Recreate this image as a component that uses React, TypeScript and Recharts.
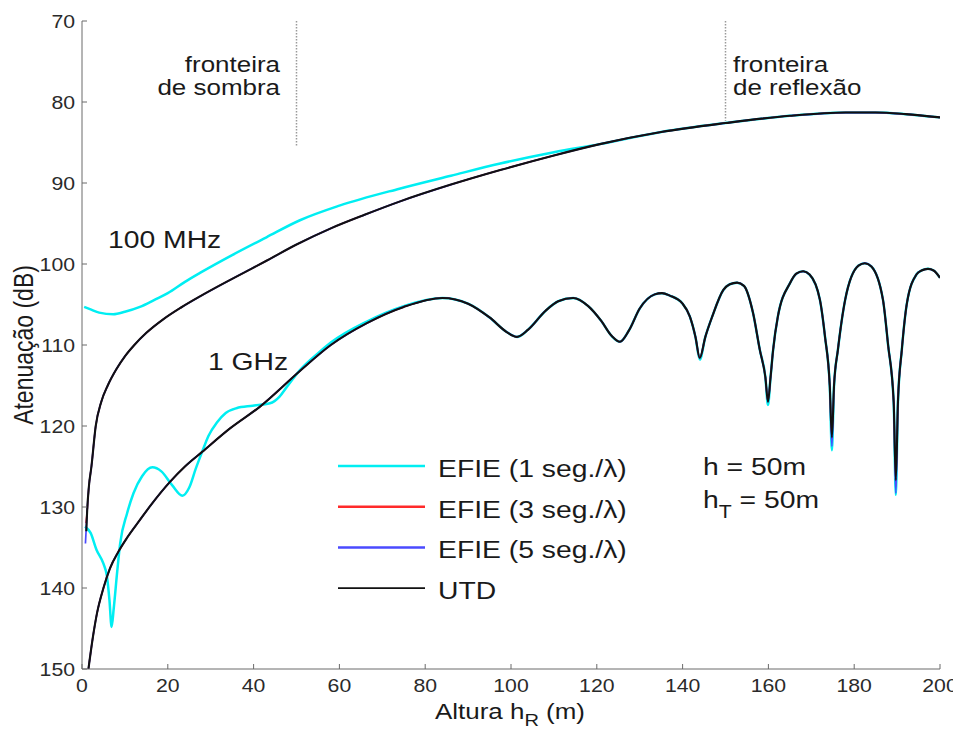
import React from 'react';
import { LineChart, Line, XAxis, YAxis, ReferenceLine } from 'recharts';

const FONT = 'Arial, "Liberation Sans", Helvetica, sans-serif';
const SX = 1.18; // the original figure is stretched horizontally

const xTicks = [0, 20, 40, 60, 80, 100, 120, 140, 160, 180, 200];
const yTicks = [70, 80, 90, 100, 110, 120, 130, 140, 150];

// ---- 100 MHz, [hR (m), attenuation (dB)]
const efie1_100 = [
  [0.5, 105.3], [2, 105.6], [4, 106.0], [7.3, 106.2], [10, 105.9], [13.5, 105.3],
  [17, 104.4], [20, 103.6], [24, 102.2], [27.5, 101.1], [35, 98.9], [43, 96.7],
  [50.8, 94.6], [60, 92.8], [74, 90.7], [86, 89.1], [97.5, 87.6], [110, 86.2],
  [120.7, 85.2], [135, 83.7], [150, 82.6], [165, 81.7], [178, 81.3], [185, 81.3],
  [192, 81.5], [200, 81.9],
];
const utd100 = [
  [1.0, 133.0], [1.2, 130.5], [1.6, 127.5], [2.2, 125.0], [3.2, 120.0], [4.5, 117.0],
  [6, 115.0], [8, 113.0], [10, 111.4], [12.2, 110.0], [15, 108.5], [19, 106.8],
  [23, 105.4], [27.5, 104.0], [33, 102.4], [38, 101.0], [43, 99.6], [50, 97.6],
  [58, 95.6], [66, 93.9], [74, 92.3], [86, 90.2], [97.5, 88.4], [110, 86.6],
  [120.7, 85.2], [135, 83.7], [150, 82.6], [165, 81.7], [178, 81.3], [185, 81.3],
  [192, 81.5], [200, 81.9],
];
// EFIE 3 and 5 seg./λ sit on the UTD curve; only their first points differ
const efie3_100Start = [[0.9, 132.0]];
const efie5_100Start = [[0.8, 134.5]];

// ---- 1 GHz
const efie1_1g = [
  [0.7, 132.4], [2, 133.2], [3.4, 135.3], [5, 137.0], [5.8, 138.5], [6.4, 141.5],
  [6.9, 144.8], [7.4, 142.5], [8.2, 138.0], [8.9, 134.5], [10.5, 130.8], [12, 128.3],
  [14, 126.2], [16.4, 125.1], [18.5, 125.6], [21, 127.3], [23.4, 128.6], [25, 127.6],
  [26.5, 125.3], [28, 123.2], [29.5, 121.2], [31.4, 119.6], [33.5, 118.4], [36, 117.8],
  [39.8, 117.5], [43.8, 117.2], [46, 116.4], [47.7, 115.2], [50.8, 113.1], [55.5, 110.8],
  [58, 109.7], [66.4, 107.1], [75, 105.2], [84, 104.2], [90, 104.9], [95, 106.6],
  [99, 108.4], [101.4, 109.0], [104, 108.1], [108, 105.8], [111, 104.6], [114.5, 104.2],
  [118, 105.2], [121, 107.0], [123.5, 108.9], [125.4, 109.6], [127.5, 108.2], [130, 105.5],
  [133.5, 103.75], [135.2, 103.6], [137, 103.9], [140, 104.9], [141.7, 106.5], [143, 109.0],
  [144, 111.8], [145.3, 109.0], [146.9, 106.5], [149.5, 103.2], [151, 102.5], [152.7, 102.3],
  [154.3, 102.7], [156.4, 106.0], [158, 110.6], [159.3, 114.0], [159.9, 117.4], [160.5, 114.0],
  [161.1, 110.6], [162.2, 106.5], [165, 102.4], [166.5, 101.2], [168.1, 100.9], [169.6, 101.3],
  [172, 104.4], [173.2, 109.0], [174.3, 115.0], [174.8, 123.0], [175.3, 115.0], [176.2, 110.6],
  [177.9, 104.4], [181, 100.2], [182.5, 99.9], [184, 100.3], [186.7, 104.4], [187.9, 110.0],
  [189.2, 117.0], [189.7, 128.5], [190.2, 117.0], [191.1, 110.6], [192.3, 104.8], [194.5, 101.3],
  [195.7, 100.8], [197.2, 100.6], [198.5, 100.8], [200, 101.7],
];
const utd1g = [
  [1.5, 150.0], [2.5, 146.2], [3.5, 143.1], [5, 140.0], [6.5, 137.6], [8.5, 135.5],
  [10.5, 133.8], [13.5, 131.6], [16, 129.8], [20.5, 126.9], [24, 125.0], [28, 123.2],
  [34.5, 120.3], [41.5, 117.6], [50.8, 113.2], [58, 110.0], [66.4, 107.3], [75, 105.3],
  [84, 104.2], [90, 104.9], [95, 106.6], [99, 108.4], [101.4, 109.0], [104, 108.1],
  [108, 105.8], [111, 104.6], [114.5, 104.2], [118, 105.2], [121, 107.0], [123.5, 108.9],
  [125.4, 109.6], [127.5, 108.2], [130, 105.5], [133.5, 103.75], [135.2, 103.6], [137, 103.9],
  [140, 104.9], [141.7, 106.5], [143, 109.0], [144, 111.6], [145.3, 109.0], [146.9, 106.5],
  [149.5, 103.2], [151, 102.5], [152.7, 102.3], [154.3, 102.7], [156.4, 106.0], [158, 110.6],
  [159.3, 114.0], [159.9, 117.0], [160.5, 114.0], [161.1, 110.6], [162.2, 106.5], [165, 102.4],
  [166.5, 101.2], [168.1, 100.9], [169.6, 101.3], [172, 104.4], [173.2, 109.0], [174.3, 115.0],
  [174.8, 121.4], [175.3, 115.0], [176.2, 110.6], [177.9, 104.4], [181, 100.2], [182.5, 99.9],
  [184, 100.3], [186.7, 104.4], [187.9, 110.0], [189.2, 117.0], [189.7, 126.7], [190.2, 117.0],
  [191.1, 110.6], [192.3, 104.8], [194.5, 101.3], [195.7, 100.8], [197.2, 100.6], [198.5, 100.8],
  [200, 101.7],
];
// deeper null tips of the EFIE 3 / 5 seg. runs (x -> dB)
const efie3_1gTips: Record<number, number> = { 189.7: 127.5 };
const efie5_1gTips: Record<number, number> = { 174.8: 122.5, 189.7: 128.3 };

const legendLabels = ['EFIE (1 seg./λ)', 'EFIE (3 seg./λ)', 'EFIE (5 seg./λ)', 'UTD'];
const colors = ['#00EEF2', '#FF2A2A', '#4A4AFF', '#111111'];
const widths = [2.5, 1.5, 1.7, 2.1];

const rows = (pts: number[][]) => pts.map(([x, v]) => ({ x, v }));
const withTips = (pts: number[][], tips: Record<number, number>) =>
  pts.map(([x, v]) => [x, tips[x] ?? v]);

const series = [
  { key: 'c100', name: legendLabels[0], i: 0, data: rows(efie1_100) },
  { key: 'c1g', name: legendLabels[0], i: 0, data: rows(efie1_1g) },
  { key: 'r100', name: legendLabels[1], i: 1, data: rows([...efie3_100Start, ...utd100.slice(1)]) },
  { key: 'r1g', name: legendLabels[1], i: 1, data: rows(withTips(utd1g, efie3_1gTips)) },
  { key: 'b100', name: legendLabels[2], i: 2, data: rows([...efie5_100Start, ...utd100.slice(1)]) },
  { key: 'b1g', name: legendLabels[2], i: 2, data: rows(withTips(utd1g, efie5_1gTips)) },
  { key: 'u100', name: legendLabels[3], i: 3, data: rows(utd100) },
  { key: 'u1g', name: legendLabels[3], i: 3, data: rows(utd1g) },
];

const AX = '#6a6a6a';

function XTick({ x, y, payload }: any) {
  return (
    <g transform={`translate(${x},${y + 23}) scale(${SX},1)`}>
      <text textAnchor="middle" fontSize={18} fontFamily={FONT} fill="#2a2a2a">{payload.value}</text>
    </g>
  );
}

function YTick({ x, y, payload }: any) {
  return (
    <g transform={`translate(${x - 7},${y + 6.5}) scale(${SX},1)`}>
      <text textAnchor="end" fontSize={18} fontFamily={FONT} fill="#2a2a2a">{payload.value}</text>
    </g>
  );
}

function Label({ x, y, size = 24, anchor = 'start', children }: any) {
  return (
    <g transform={`translate(${x},${y}) scale(${SX},1)`}>
      <text textAnchor={anchor} fontSize={size} fontFamily={FONT} fill="#1a1a1a">{children}</text>
    </g>
  );
}

export default function App() {
  const W = 953;
  const H = 719;
  return (
    <div style={{ position: 'relative', width: W, height: H }}>
      <LineChart width={W} height={H} margin={{ top: 13, right: 21, bottom: 0, left: 0 }}>
        <XAxis
          xAxisId="b" dataKey="x" type="number" domain={[0, 200]} ticks={xTicks}
          allowDataOverflow height={58} tickSize={-5} tickMargin={5}
          stroke={AX} tick={<XTick />}
        />
        <XAxis
          xAxisId="t" orientation="top" dataKey="x" type="number" domain={[0, 200]} ticks={xTicks}
          allowDataOverflow height={0} tickSize={-5} tick={false} stroke={AX}
        />
        <YAxis
          yAxisId="l" type="number" domain={[70, 150]} ticks={yTicks} reversed
          allowDataOverflow width={74} tickSize={-5} tickMargin={5}
          stroke={AX} tick={<YTick />}
        />
        <YAxis
          yAxisId="r" orientation="right" type="number" domain={[70, 150]} ticks={yTicks} reversed
          allowDataOverflow width={0} tickSize={-5} tick={false} stroke={AX}
        />
        <ReferenceLine
          xAxisId="b" yAxisId="l"
          segment={[{ x: 50, y: 70 }, { x: 50, y: 85.5 }]}
          stroke="#9a9a9a" strokeWidth={1.5} strokeDasharray="1.5 1.5"
        />
        <ReferenceLine
          xAxisId="b" yAxisId="l"
          segment={[{ x: 150, y: 70 }, { x: 150, y: 82.3 }]}
          stroke="#9a9a9a" strokeWidth={1.5} strokeDasharray="1.5 1.5"
        />
        {series.map((s) => (
          <Line
            key={s.key}
            xAxisId="b"
            yAxisId="l"
            data={s.data}
            dataKey="v"
            name={s.name}
            type="monotone"
            stroke={colors[s.i]}
            strokeWidth={widths[s.i]}
            dot={false}
            activeDot={false}
            isAnimationActive={false}
          />
        ))}
      </LineChart>

      <svg width={W} height={H} style={{ position: 'absolute', left: 0, top: 0, pointerEvents: 'none', overflow: 'visible' }}>
        {/* axis titles */}
        <g transform={`translate(25,337) scale(${SX},1) rotate(-90)`}>
          <text textAnchor="middle" fontSize={23} fontFamily={FONT} fill="#1a1a1a">Atenuação (dB)</text>
        </g>
        <g transform={`translate(502,711) scale(${SX},1)`}>
          <text textAnchor="middle" fontSize={22} fontFamily={FONT} fill="#1a1a1a">
            Altura h<tspan fontSize={17} dy={7}>R</tspan><tspan dy={-7}> (m)</tspan>
          </text>
        </g>

        {/* boundary notes */}
        <Label x={272} y={64} size={22} anchor="end">fronteira</Label>
        <Label x={272} y={87} size={22} anchor="end">de sombra</Label>
        <Label x={725} y={64} size={22}>fronteira</Label>
        <Label x={725} y={87} size={22}>de reflexão</Label>

        {/* curve labels */}
        <Label x={100} y={240}>100 MHz</Label>
        <Label x={200} y={362}>1 GHz</Label>

        {/* geometry */}
        <Label x={695} y={467}>h = 50m</Label>
        <g transform={`translate(695,500) scale(${SX},1)`}>
          <text fontSize={24} fontFamily={FONT} fill="#1a1a1a">
            h<tspan fontSize={18} dy={10}>T</tspan><tspan dy={-10}> = 50m</tspan>
          </text>
        </g>

        {/* legend */}
        {legendLabels.map((label, i) => (
          <g key={label}>
            <line x1={330} x2={417} y1={458 + i * 40.7} y2={458 + i * 40.7} stroke={colors[i]} strokeWidth={i === 3 ? 1.6 : 2.5} />
            <Label x={430} y={469 + i * 40.7}>{label}</Label>
          </g>
        ))}
      </svg>
    </div>
  );
}
